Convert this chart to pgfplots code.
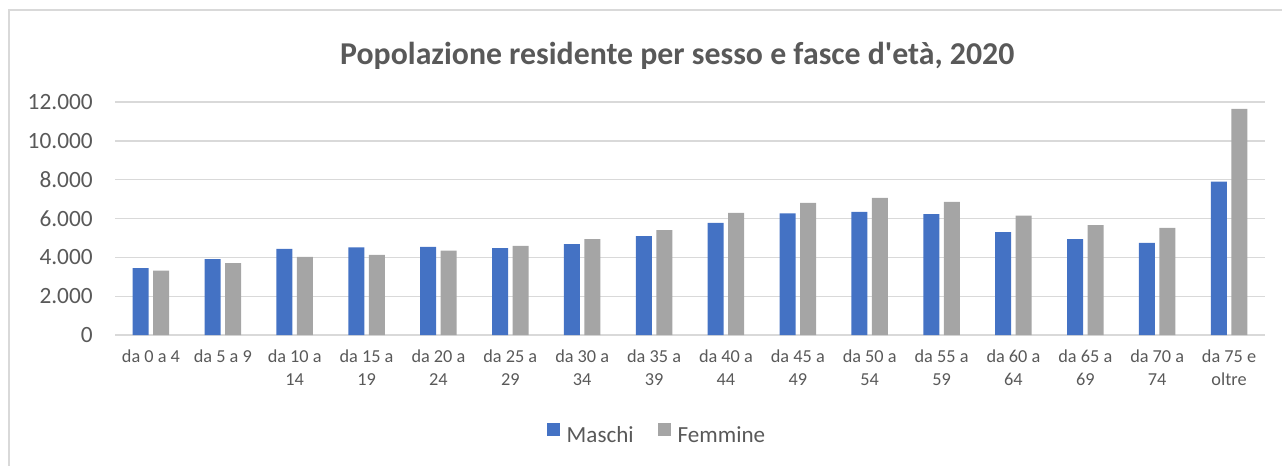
\documentclass[border=0pt]{standalone}
\usepackage{fontspec}
\setmainfont{Carlito}[Ligatures=TeXOff]
\usepackage{pgfplots}
\pgfplotsset{compat=1.18}
\definecolor{cblue}{HTML}{4472C4}
\definecolor{cgray}{HTML}{A5A5A5}
\definecolor{ctext}{HTML}{595959}
\definecolor{cgrid}{HTML}{D9D9D9}
\begin{document}
\begin{tikzpicture}
\useasboundingbox (0,0) rectangle (961.5pt,348.75pt);
\draw[cgrid, line width=1.5pt] (6.75pt,-2pt) -- (6.75pt,341.25pt) -- (965pt,341.25pt);
\node[anchor=base, inner sep=0pt, font=\fontsize{23.85}{28}\selectfont\bfseries, text=ctext] at (508pt,300pt) {Popolazione residente per sesso e fasce d'età, 2020};
\begin{axis}[
  at={(86.25pt,97.5pt)}, anchor=south west, scale only axis,
  width=862.5pt, height=174.75pt,
  xmin=-0.5, xmax=15.5, ymin=0, ymax=12000,
  ybar, bar width=0.222,
  axis line style={draw=none},
  ymajorgrids, grid style={cgrid, line width=1pt},
  major tick length=0pt,
  ytick={0,2000,4000,6000,8000,10000,12000},
  xtick={0,1,2,3,4,5,6,7,8,9,10,11,12,13,14,15},
  xticklabels={{da 0 a 4},{da 5 a 9},{da 10 a\\14},{da 15 a\\19},{da 20 a\\24},{da 25 a\\29},{da 30 a\\34},{da 35 a\\39},{da 40 a\\44},{da 45 a\\49},{da 50 a\\54},{da 55 a\\59},{da 60 a\\64},{da 65 a\\69},{da 70 a\\74},{da 75 e\\oltre}},
  xticklabel style={align=center, anchor=north, inner sep=0pt, yshift=-11.25pt, text=ctext, font=\fontsize{13.7}{17}\selectfont},
  yticklabel style={anchor=east, inner sep=0pt, xshift=-16.5pt, text=ctext, font=\fontsize{17.5}{20}\selectfont},
  /pgf/number format/.cd, assume math mode=true, 1000 sep={.}, /pgfplots/.cd,
  scaled y ticks=false,
  legend style={draw=none, fill=none, at={(0.4704,-0.425)}, anchor=center,
    legend columns=2, /tikz/every even column/.append style={column sep=18pt},
    nodes={inner sep=0pt, text=ctext, font=\fontsize{17.3}{20}\selectfont}},
  legend image code/.code={\fill[#1] (0pt,-0.5pt) rectangle (9.75pt,9.25pt); \path (15pt,0pt);},
]
\addplot[fill=cblue, draw=none, bar shift=-0.1426] coordinates {
 (0,3450) (1,3910) (2,4440) (3,4510) (4,4540) (5,4470) (6,4680) (7,5090)
 (8,5780) (9,6270) (10,6340) (11,6220) (12,5300) (13,4940) (14,4750) (15,7900)};
\addplot[fill=cgray, draw=none, bar shift=0.1426] coordinates {
 (0,3310) (1,3700) (2,4030) (3,4130) (4,4350) (5,4590) (6,4940) (7,5400)
 (8,6290) (9,6810) (10,7060) (11,6860) (12,6150) (13,5660) (14,5520) (15,11640)};
\legend{Maschi,Femmine}
\end{axis}
\end{tikzpicture}
\end{document}
